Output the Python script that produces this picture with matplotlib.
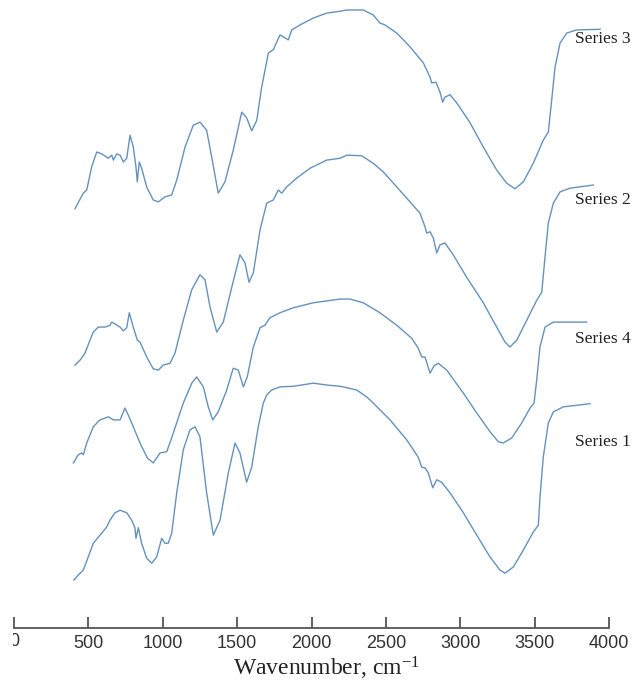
import matplotlib
matplotlib.use("Agg")
import matplotlib.pyplot as plt
from matplotlib.transforms import Bbox, TransformedBbox

plt.rcParams["mathtext.fontset"] = "custom"
plt.rcParams["mathtext.rm"] = "Liberation Serif"
plt.rcParams["mathtext.it"] = "Liberation Serif:italic"
plt.rcParams["mathtext.bf"] = "Liberation Serif:bold"

# ---- data (wavenumber cm^-1, offset transmittance, arbitrary units) ----
s3_wn = [410, 466, 489, 522, 556, 590, 634, 657, 668, 690, 713, 735, 758, 780, 802, 820, 829, 842, 858,
         892, 936, 970, 1015, 1060, 1094, 1150, 1205, 1250, 1295, 1329, 1373, 1418, 1474, 1531, 1564,
         1598, 1632, 1665, 1710, 1743, 1788, 1810, 1844, 1867, 1923, 2012, 2102, 2192, 2237, 2348,
         2415, 2460, 2494, 2573, 2662, 2752, 2797, 2808, 2837, 2864, 2882, 2897, 2931, 2976, 3066,
         3155, 3245, 3312, 3368, 3424, 3491, 3558, 3592, 3615, 3637, 3671, 3716, 3783, 3940]
s3_t = [67.3, 69.8, 70.3, 74.0, 76.4, 76.1, 75.4, 75.9, 75.1, 76.1, 75.9, 74.8, 75.4, 79.1, 77.2, 74.0, 71.6,
        74.8, 73.8, 70.8, 68.7, 68.4, 69.2, 69.5, 71.9, 77.2, 80.7, 81.2, 79.9, 75.6, 69.8, 71.6, 76.7,
        82.8, 81.9, 79.8, 81.5, 86.8, 92.3, 92.8, 95.2, 94.9, 94.4, 96.0, 96.8, 97.9, 98.7, 99.0, 99.2,
        99.2, 98.4, 97.1, 96.8, 95.5, 93.3, 90.7, 88.4, 87.5, 87.6, 86.0, 84.4, 85.2, 85.6, 84.3, 81.1,
        77.2, 73.5, 71.4, 70.5, 71.6, 74.6, 78.3, 79.6, 84.8, 90.0, 93.9, 95.5, 96.0, 96.1]

s2_wn = [410, 444, 477, 511, 533, 567, 612, 645, 657, 679, 713, 735, 758, 775, 802, 829, 847, 892, 936,
         970, 1004, 1049, 1082, 1138, 1195, 1250, 1284, 1318, 1363, 1407, 1464, 1519, 1553, 1580, 1609,
         1654, 1699, 1743, 1777, 1800, 1833, 1900, 1990, 2102, 2192, 2237, 2337, 2415, 2483, 2573,
         2662, 2729, 2763, 2774, 2797, 2819, 2842, 2864, 2897, 2953, 3043, 3155, 3245, 3301, 3334,
         3380, 3447, 3514, 3548, 3570, 3592, 3626, 3671, 3738, 3895]
s2_t = [42.2, 43.0, 44.1, 46.2, 47.5, 48.3, 48.3, 48.6, 49.1, 48.8, 48.3, 47.7, 48.2, 50.6, 48.3, 46.2, 45.9,
        43.5, 41.6, 41.4, 42.2, 42.5, 44.1, 49.4, 54.3, 56.7, 55.9, 51.5, 47.5, 49.1, 54.7, 59.9, 58.6,
        55.5, 57.0, 63.9, 68.2, 68.7, 70.3, 69.8, 70.8, 72.2, 73.8, 75.1, 75.4, 75.9, 75.8, 74.6, 73.2,
        70.8, 68.4, 66.6, 64.4, 63.4, 63.6, 62.6, 60.2, 61.5, 61.8, 59.9, 56.3, 52.2, 48.3, 45.9, 45.1,
        46.2, 49.4, 52.6, 53.9, 59.6, 65.0, 68.2, 70.0, 70.6, 71.1]

s4_wn = [399, 432, 455, 466, 489, 533, 578, 634, 668, 713, 746, 768, 802, 847, 896, 936, 982, 1027, 1071,
         1138, 1195, 1228, 1273, 1306, 1336, 1373, 1430, 1474, 1508, 1542, 1568, 1609, 1654, 1687, 1721,
         1788, 1878, 2012, 2192, 2259, 2348, 2460, 2573, 2674, 2718, 2741, 2763, 2797, 2824, 2852, 2909,
         3021, 3111, 3200, 3256, 3289, 3346, 3413, 3469, 3496, 3514, 3536, 3570, 3626, 3693, 3850]
s4_t = [26.5, 27.8, 28.1, 27.8, 29.7, 32.3, 33.4, 33.9, 33.4, 33.4, 35.3, 34.2, 32.3, 29.7, 27.3, 26.5, 28.1,
        28.3, 31.3, 36.1, 39.3, 40.3, 38.7, 35.5, 33.4, 34.7, 38.2, 41.7, 41.4, 38.7, 40.3, 45.1, 48.2,
        48.6, 49.8, 50.6, 51.4, 52.2, 52.8, 52.8, 52.2, 50.6, 48.6, 46.5, 44.9, 43.5, 43.5, 40.9, 42.1,
        42.5, 41.4, 37.7, 34.5, 31.5, 29.9, 29.7, 30.5, 32.9, 35.3, 36.1, 39.8, 45.1, 48.3, 49.1, 49.1, 49.1]

s1_wn = [403, 432, 466, 499, 533, 578, 623, 645, 679, 713, 758, 791, 813, 820, 836, 858, 892, 926, 959,
         993, 1015, 1037, 1060, 1094, 1138, 1183, 1217, 1250, 1295, 1340, 1385, 1441, 1486, 1519, 1564,
         1598, 1642, 1676, 1699, 1732, 1788, 1878, 2012, 2102, 2192, 2214, 2304, 2371, 2415, 2528, 2640,
         2718, 2741, 2763, 2785, 2815, 2842, 2875, 2931, 3021, 3111, 3200, 3267, 3301, 3357, 3424, 3491,
         3525, 3536, 3558, 3592, 3626, 3693, 3872]
s1_t = [7.7, 8.5, 9.3, 11.4, 13.6, 14.9, 16.2, 17.3, 18.5, 18.9, 18.5, 17.3, 16.1, 14.4, 16.1, 13.6, 11.2,
        10.4, 11.4, 14.4, 13.6, 13.6, 15.2, 21.7, 28.6, 31.8, 32.3, 30.7, 21.7, 14.9, 17.3, 24.9, 29.7,
        28.1, 23.4, 25.8, 32.3, 36.1, 37.4, 38.2, 38.7, 38.8, 39.3, 39.0, 38.8, 38.7, 38.2, 37.1, 36.1,
        33.4, 30.2, 27.4, 25.8, 25.7, 24.9, 22.5, 23.8, 23.4, 21.7, 18.5, 14.9, 11.4, 9.3, 8.8, 9.8, 12.5,
        15.4, 16.5, 21.0, 27.4, 32.9, 34.7, 35.5, 36.0]

series_names = ["Series 3", "Series 2", "Series 4", "Series 1"]
label_wn = 3771
label_t = [94.5, 68.7, 46.4, 29.9]
x_ticks = [0, 500, 1000, 1500, 2000, 2500, 3000, 3500, 4000]

# ---- figure ----
W, H = 641, 687
fig = plt.figure(figsize=(W / 100, H / 100), dpi=100)
ax = fig.add_axes([14 / W, 59 / H, (609 - 14) / W, (628 - 5) / H])

line_color = "#6592bd"
for wn, t in [(s3_wn, s3_t), (s2_wn, s2_t), (s4_wn, s4_t), (s1_wn, s1_t)]:
    ax.plot(wn, t, color=line_color, lw=1.0, solid_joinstyle="round")

for name, ty in zip(series_names, label_t):
    ax.text(label_wn, ty, name, ha="left", va="center", fontsize=12.5,
            family="Liberation Serif", color="#222222", clip_on=False)

ax.set_xlim(0, 4000)
ax.set_ylim(0, 100)
for side in ["left", "right", "top"]:
    ax.spines[side].set_visible(False)
ax.spines["bottom"].set_color("#555555")
ax.spines["bottom"].set_linewidth(1.3)
ax.set_yticks([])
ax.set_xticks(x_ticks)
# leftmost label drawn separately (partly cut by the image edge in the reference)
ax.set_xticklabels([""] + [str(v) for v in x_ticks[1:]])
ax.tick_params(axis="x", direction="in", length=8, width=1.3, color="#555555",
               labelsize=13, labelcolor="#333333", pad=5)
for lbl in ax.get_xticklabels():
    lbl.set_family("Liberation Sans")

zero = ax.text(x_ticks[0], -0.008, str(x_ticks[0]), transform=ax.get_xaxis_transform(),
               ha="center", va="top", fontsize=13, family="Liberation Sans",
               color="#333333", clip_on=True)
zero.set_clip_box(TransformedBbox(Bbox([[12.5 / W, 0], [1, 1]]), fig.transFigure))

ax.set_xlabel("Wavenumber, cm$^{-1}$", fontsize=17, family="Liberation Serif",
              color="#222222")
ax.xaxis.set_label_coords((326 - 14) / (609 - 14), -(668 - 628) / (628 - 5))
ax.xaxis.label.set_va("center")

fig.savefig("out.png", dpi=100)
